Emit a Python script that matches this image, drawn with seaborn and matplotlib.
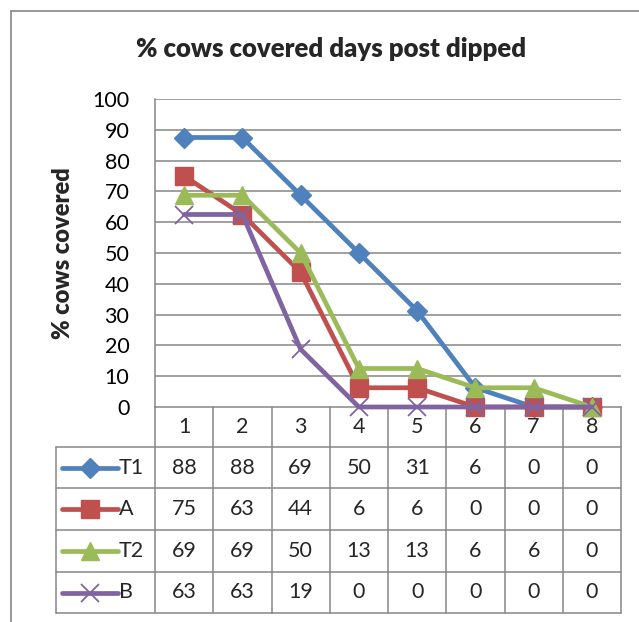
import math
import matplotlib
matplotlib.use("Agg")
import matplotlib.pyplot as plt
from matplotlib.lines import Line2D
import seaborn as sns

# ---- data ----
days = [1, 2, 3, 4, 5, 6, 7, 8]
series_names = ["T1", "A", "T2", "B"]
t1_values = [87.5, 87.5, 68.75, 50, 31.25, 6.25, 0, 0]
a_values = [75, 62.5, 43.75, 6.25, 6.25, 0, 0, 0]
t2_values = [68.75, 68.75, 50, 12.5, 12.5, 6.25, 6.25, 0]
b_values = [62.5, 62.5, 18.75, 0, 0, 0, 0, 0]
y_ticks = [0, 10, 20, 30, 40, 50, 60, 70, 80, 90, 100]
title = "% cows covered days post dipped"
y_label = "% cows covered"

all_values = [t1_values, a_values, t2_values, b_values]
colors = ["#4F81BD", "#C0504D", "#9BBB59", "#8064A2"]
markers = ["D", "s", "^", "x"]
msizes = [10, 12.5, 13, 13]
mews = [1, 1, 1, 1.3]

sns.set_style("white")
plt.rcParams["font.family"] = ["Lato", "DejaVu Sans"]

W, H = 639, 622
fig = plt.figure(figsize=(W / 100, H / 100), dpi=100)
ax = fig.add_axes([155 / W, 1 - 407 / H, (621 - 155) / W, (407 - 99) / H])

grid_c = "#868686"
for i, (name, vals) in enumerate(zip(series_names, all_values)):
    sns.lineplot(x=days, y=vals, ax=ax, color=colors[i], marker=markers[i],
                 markersize=msizes[i], markeredgecolor=colors[i],
                 markeredgewidth=mews[i], linewidth=3.4, clip_on=False,
                 zorder=5 + i, legend=False)

ax.set_xlim(0.5, 8.5)
ax.set_ylim(0, 100)
ax.set_yticks(y_ticks)
ax.set_xticks([])
ax.tick_params(axis="y", length=0, pad=18.5, labelsize=15.5, colors="black")
for yt in y_ticks[1:]:
    ax.axhline(yt, color=grid_c, linewidth=1.1, zorder=1)
for s in ["top", "right"]:
    ax.spines[s].set_visible(False)
for s in ["left", "bottom"]:
    ax.spines[s].set_color(grid_c)
    ax.spines[s].set_linewidth(1.1)
ax.set_ylabel(y_label, fontsize=17, fontweight="heavy", labelpad=0)
ax.yaxis.set_label_coords((74 - 155) / (621 - 155), 0.5)
ax.set_xlabel("")

# ---- data table ----
tr = ax.get_xaxis_transform()
ph = 407 - 99
rows_px = [407, 447, 488, 530, 572, 613]
rows = [-(r - 407) / ph for r in rows_px]
left_x = 0.5 - (155 - 56) / 58.25
lkw = dict(color=grid_c, linewidth=1.1, transform=tr, clip_on=False, zorder=2)
for r in rows[1:]:
    ax.add_line(Line2D([left_x, 8.5], [r, r], **lkw))
ax.add_line(Line2D([left_x, left_x], [rows[1], rows[-1]], **lkw))
for k in range(9):
    xb = 0.5 + k
    ax.add_line(Line2D([xb, xb], [0, rows[-1]], **lkw))

num_fs = 15.5
for j, d in enumerate(days):
    ax.text(d, (rows[0] + rows[1]) / 2, str(d), transform=tr, ha="center",
            va="center", fontsize=num_fs)
for i, (name, vals) in enumerate(zip(series_names, all_values)):
    yc = (rows[i + 1] + rows[i + 2]) / 2
    for d, v in zip(days, vals):
        ax.text(d, yc, str(int(math.floor(v + 0.5))), transform=tr,
                ha="center", va="center", fontsize=num_fs)
    x0 = 0.5 + (62 - 155) / 58.25
    x1 = 0.5 + (118 - 155) / 58.25
    xm = 0.5 + (90 - 155) / 58.25
    ax.add_line(Line2D([x0, x1], [yc, yc], color=colors[i], linewidth=3.4,
                       transform=tr, clip_on=False, zorder=3))
    ax.add_line(Line2D([xm], [yc], color=colors[i], marker=markers[i],
                       markersize=msizes[i], markeredgecolor=colors[i],
                       markeredgewidth=mews[i], transform=tr, clip_on=False,
                       zorder=4))
    ax.text(0.5 + (119 - 155) / 58.25, yc, name, transform=tr, ha="left",
            va="center", fontsize=num_fs)

# ---- chart title & border ----
fig.text(331 / W, 1 - 49 / H, title, ha="center", va="center",
         fontsize=18.5, fontweight="heavy")
fig.add_artist(Line2D([11 / W, 11 / W], [0, 1 - 11 / H], color=grid_c,
                      linewidth=1.2, transform=fig.transFigure))
fig.add_artist(Line2D([11 / W, 1], [1 - 11 / H, 1 - 11 / H], color=grid_c,
                      linewidth=1.2, transform=fig.transFigure))

fig.savefig("out.png", dpi=100)
